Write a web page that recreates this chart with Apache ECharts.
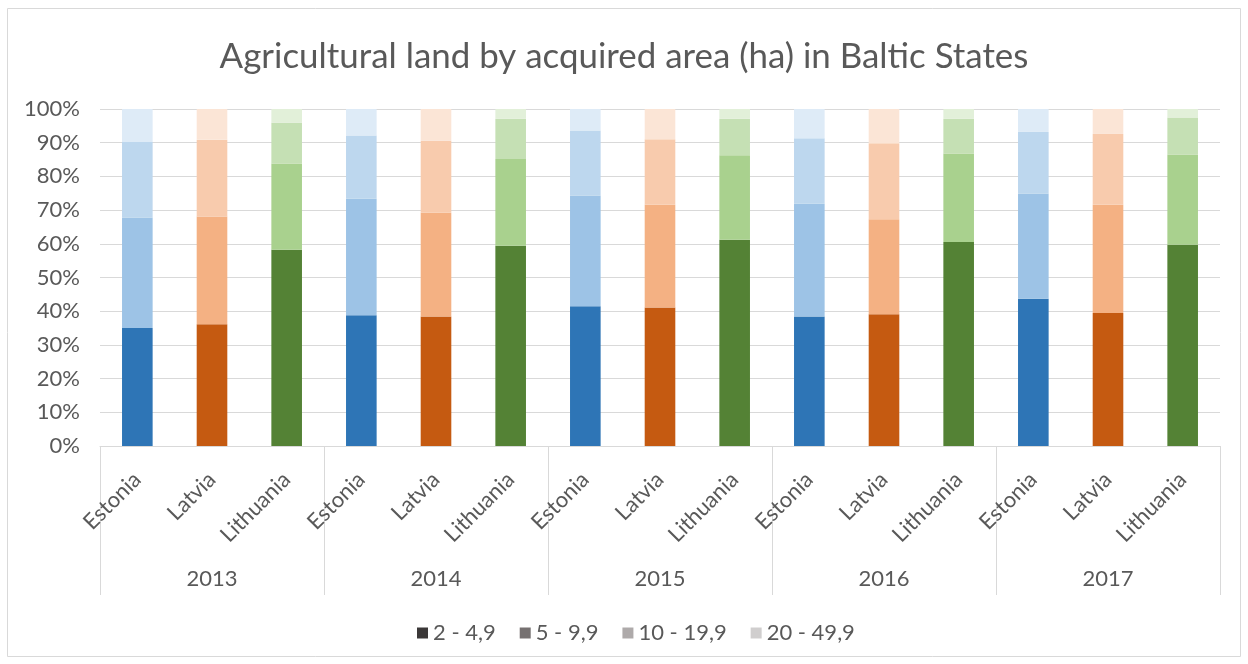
<!DOCTYPE html>
<html>
<head>
<meta charset="utf-8">
<script src="https://cdn.jsdelivr.net/npm/echarts@6/dist/echarts.min.js"></script>
<style>
  html, body { margin: 0; padding: 0; background: #fff; }
  #chart { width: 1248px; height: 664px; }
</style>
</head>
<body>
<div id="chart"></div>
<script>
  // categories
  var years = ['2013', '2014', '2015', '2016', '2017'];
  var countries = ['Estonia', 'Latvia', 'Lithuania'];
  var sizeClasses = ['2 - 4,9', '5 - 9,9', '10 - 19,9', '20 - 49,9'];

  // shares (%) per bar, order: 2013 Est, Lat, Lit, 2014 Est, ...
  var share2to5 = [35.0, 36.1, 58.2, 38.8, 38.4, 59.4, 41.5, 41.1, 61.2, 38.4, 39.1, 60.5, 43.7, 39.5, 59.7];
  var share5to10 = [32.8, 32.0, 25.6, 34.6, 30.8, 25.8, 32.8, 30.5, 25.1, 33.5, 28.2, 26.3, 31.2, 32.1, 26.8];
  var share10to20 = [22.4, 22.8, 12.1, 18.7, 21.4, 11.9, 19.3, 19.4, 10.8, 19.4, 22.5, 10.3, 18.3, 21.0, 11.0];
  var share20to50 = [9.8, 9.1, 4.1, 7.9, 9.4, 2.9, 6.4, 9.0, 2.9, 8.7, 10.2, 2.9, 6.8, 7.4, 2.5];

  var yTicks = [0, 10, 20, 30, 40, 50, 60, 70, 80, 90, 100];

  var legendColors = ['#3b3838', '#767171', '#aeaaaa', '#d0cece'];
  var countryColors = {
    Estonia:   ['#2e75b6', '#9dc3e6', '#bdd7ee', '#deebf7'],
    Latvia:    ['#c55a11', '#f4b183', '#f8cbad', '#fbe5d6'],
    Lithuania: ['#548235', '#a9d18e', '#c5e0b4', '#e2f0d9']
  };

  var barLabels = [];
  years.forEach(function (y) {
    countries.forEach(function (c) { barLabels.push(c); });
  });

  var allShares = [share2to5, share5to10, share10to20, share20to50];

  var series = sizeClasses.map(function (name, k) {
    return {
      name: name,
      type: 'bar',
      stack: 'total',
      barWidth: '41%',
      itemStyle: { color: legendColors[k] },
      data: allShares[k].map(function (v, i) {
        return { value: v, itemStyle: { color: countryColors[barLabels[i]][k] } };
      })
    };
  });

  var chart = echarts.init(document.getElementById('chart'));
  chart.setOption({
    animation: false,
    textStyle: { fontFamily: 'Lato' },
    title: {
      text: 'Agricultural land by acquired area (ha) in Baltic States',
      left: 'center',
      top: 34,
      textStyle: { fontSize: 34.9, fontWeight: 'normal', color: '#595959', fontFamily: 'Lato' }
    },
    graphic: [{
      type: 'rect',
      shape: { x: 7.5, y: 8.5, width: 1233, height: 648 },
      style: { fill: 'none', stroke: '#d9d9d9', lineWidth: 1 },
      silent: true
    }],
    legend: {
      top: 617,
      left: 412,
      itemWidth: 11,
      itemHeight: 11,
      itemGap: 24,
      icon: 'rect',
      textStyle: { fontSize: 22, color: '#595959' },
      data: sizeClasses
    },
    grid: { left: 100, right: 28, top: 109, bottom: 218 },
    xAxis: [{
      type: 'category',
      data: barLabels,
      axisLine: { lineStyle: { color: '#d9d9d9' } },
      axisTick: { show: false },
      axisLabel: { rotate: 45, interval: 0, margin: 30, fontSize: 22, color: '#595959' }
    }, {
      type: 'category',
      data: years,
      position: 'bottom',
      axisLine: { show: false },
      axisTick: { show: true, length: 149, lineStyle: { color: '#d9d9d9' } },
      axisLabel: { margin: 122, fontSize: 22, color: '#595959' }
    }],
    yAxis: {
      type: 'value',
      min: yTicks[0],
      max: yTicks[yTicks.length - 1],
      interval: 10,
      axisLine: { show: false },
      axisTick: { show: false },
      splitLine: { lineStyle: { color: '#d9d9d9' } },
      axisLabel: { formatter: '{value}%', fontSize: 22, color: '#595959', margin: 20 }
    },
    series: series
  });
</script>
</body>
</html>
